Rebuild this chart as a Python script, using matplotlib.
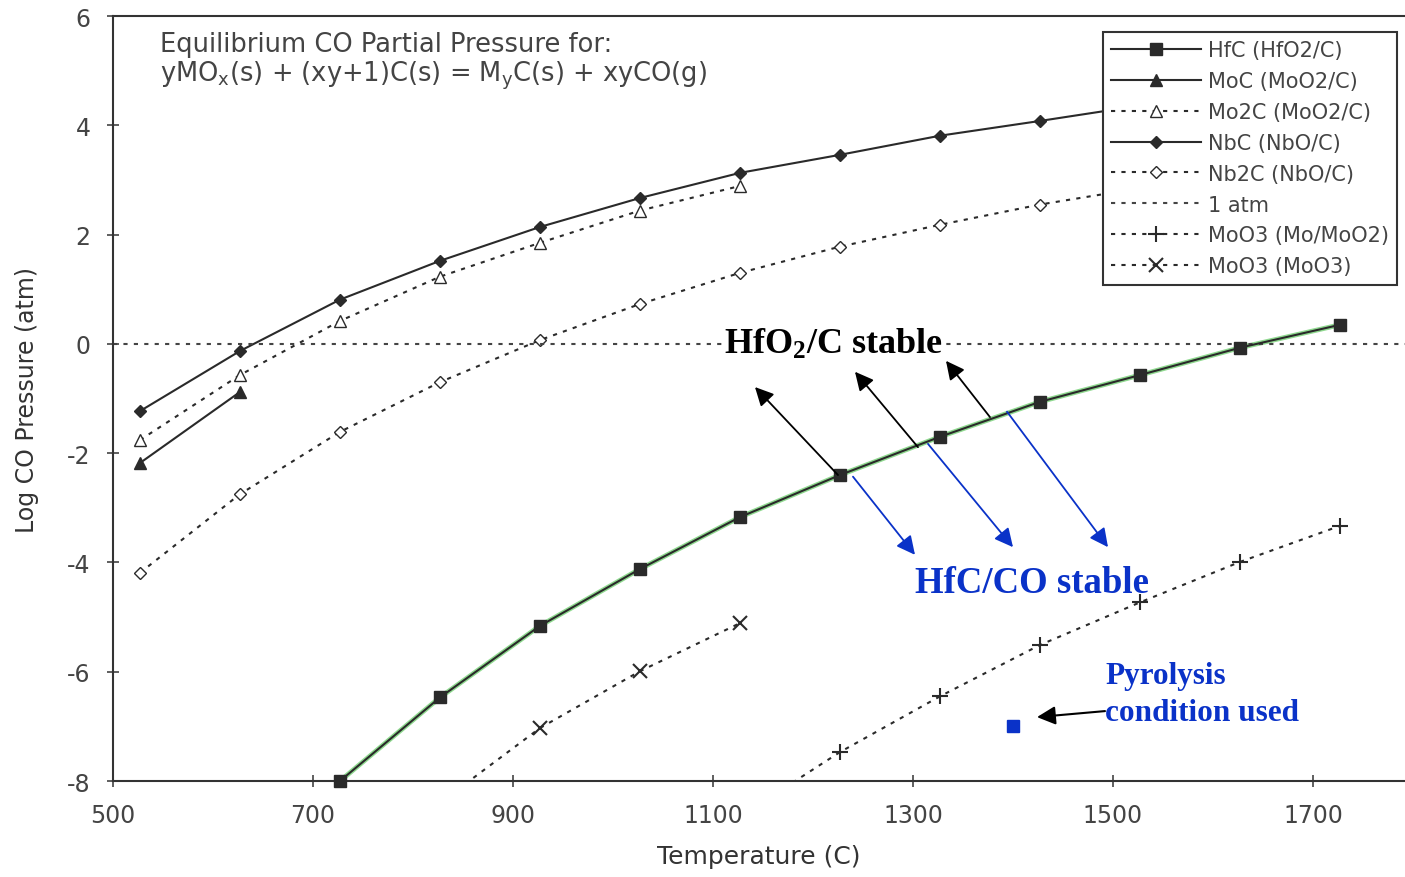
import matplotlib.pyplot as plt

plt.rcParams['font.family'] = ['DejaVu Sans']
plt.rcParams['mathtext.default'] = 'regular'
plt.rcParams['axes.unicode_minus'] = False

# data (temperature in C, log CO pressure in atm)
hfc_T = [727, 827, 927, 1027, 1127, 1227, 1327, 1427, 1527, 1627, 1727]
hfc_P = [-8.0, -6.47, -5.16, -4.12, -3.17, -2.40, -1.70, -1.06, -0.57, -0.07, 0.35]
moc_T = [527, 627]
moc_P = [-2.18, -0.88]
mo2c_T = [527, 627, 727, 827, 927, 1027, 1127]
mo2c_P = [-1.76, -0.57, 0.42, 1.23, 1.85, 2.44, 2.89]
nbc_T = [527, 627, 727, 827, 927, 1027, 1127, 1227, 1327, 1427, 1527]
nbc_P = [-1.23, -0.13, 0.81, 1.52, 2.14, 2.67, 3.13, 3.46, 3.81, 4.08, 4.36]
nb2c_T = [527, 627, 727, 827, 927, 1027, 1127, 1227, 1327, 1427, 1527]
nb2c_P = [-4.19, -2.75, -1.61, -0.70, 0.07, 0.73, 1.30, 1.78, 2.18, 2.55, 2.85]
atm_T = [500, 1800]
atm_P = [0, 0]
moo3a_T = [1127, 1227, 1327, 1427, 1527, 1627, 1727]
moo3a_P = [-8.65, -7.47, -6.45, -5.51, -4.73, -3.99, -3.33]
moo3b_T = [827, 927, 1027, 1127]
moo3b_P = [-8.4, -7.03, -5.99, -5.11]
pyro_T = [1400]
pyro_P = [-7.0]

labels = ["HfC (HfO2/C)", "MoC (MoO2/C)", "Mo2C (MoO2/C)", "NbC (NbO/C)",
          "Nb2C (NbO/C)", "1 atm", "MoO3 (Mo/MoO2)", "MoO3 (MoO3)"]

dark = '#2a2a2a'
grey = '#444444'
dots = (0, (2, 3))
blue = '#0a32c8'

fig = plt.figure(figsize=(14.05, 8.78), dpi=100)
ax = fig.add_axes([0.0804, 0.1093, 0.9196, 0.8713])

ax.plot(hfc_T, hfc_P, color='#8fd98f', lw=3.5, zorder=2)
ax.plot(hfc_T, hfc_P, 's-', color=dark, lw=1.5, ms=8, label=labels[0], zorder=3, clip_on=False)
ax.plot(moc_T, moc_P, '^-', color=dark, lw=1.5, ms=8, label=labels[1])
ax.plot(mo2c_T, mo2c_P, '^', ls=dots, color=dark, lw=1.5, ms=8, mfc='white', label=labels[2])
ax.plot(nbc_T, nbc_P, 'D-', color=dark, lw=1.5, ms=6, label=labels[3])
ax.plot(nb2c_T, nb2c_P, 'D', ls=dots, color=dark, lw=1.5, ms=6, mfc='white', label=labels[4])
ax.plot(atm_T, atm_P, ls=dots, color=grey, lw=1.5, label=labels[5])
ax.plot(moo3a_T, moo3a_P, '+', ls=dots, color=dark, lw=1.5, ms=11, mew=1.5, label=labels[6])
ax.plot(moo3b_T, moo3b_P, 'x', ls=dots, color=dark, lw=1.5, ms=10, mew=1.5, label=labels[7])
ax.plot(pyro_T, pyro_P, 's', color=blue, ms=8)

ax.set_xlim(500, 1792)
ax.set_ylim(-8, 6)
ax.set_xticks([500, 700, 900, 1100, 1300, 1500, 1700])
ax.set_yticks([-8, -6, -4, -2, 0, 2, 4, 6])
ax.tick_params(direction='inout', length=8, width=1.2, labelsize=17, colors='#444444', pad=12)
ax.spines['right'].set_visible(False)
for s in ['left', 'bottom', 'top']:
    ax.spines[s].set_linewidth(1.5)
    ax.spines[s].set_color('#333333')

ax.set_xlabel("Temperature (C)", fontsize=18, color='#333333', labelpad=12)
ax.set_ylabel("Log CO Pressure (atm)", fontsize=17, color='#333333', labelpad=20)

ax.text(547, 5.49, "Equilibrium CO Partial Pressure for:", fontsize=18.5, color=grey, va='center')
ax.text(547, 4.92, "yMO$_x$(s) + (xy+1)C(s) = M$_y$C(s) + xyCO(g)", fontsize=18.5,
        color=grey, va='center')

leg = ax.legend(loc='upper right', bbox_to_anchor=(0.994, 0.979), borderaxespad=0,
                fontsize=15, handlelength=4.3, handletextpad=0.35, fancybox=False,
                framealpha=1, edgecolor='#333333', labelspacing=0.52, borderpad=0.4,
                labelcolor=grey)
leg.get_frame().set_linewidth(1.5)

ax.text(1220, 0, "HfO$_2$/C stable", family='Liberation Serif', fontweight='bold',
        fontsize=26, ha='center', va='center', color='black',
        bbox=dict(facecolor='white', edgecolor='none', pad=1))
ax.text(1419, -4.36, "HfC/CO stable", family='Liberation Serif', fontweight='bold',
        fontsize=26.5, ha='center', va='center', color=blue)
ax.text(1492, -6.06, "Pyrolysis", family='Liberation Serif', fontweight='bold',
        fontsize=22.5, ha='left', va='center', color=blue)
ax.text(1492, -6.74, "condition used", family='Liberation Serif', fontweight='bold',
        fontsize=22.5, ha='left', va='center', color=blue)

black_tails = [(1225, -2.40), (1305, -1.89), (1377, -1.34)]
black_heads = [(1142, -0.79), (1242, -0.51), (1333, -0.31)]
blue_tails = [(1240, -2.43), (1315, -1.83), (1394, -1.24)]
blue_heads = [(1302, -3.86), (1400, -3.72), (1495, -3.72)]

for t, h in zip(black_tails, black_heads):
    ax.annotate("", xy=h, xytext=t,
                arrowprops=dict(arrowstyle='-|>', color='black', lw=1.3, mutation_scale=28,
                                shrinkA=0, shrinkB=0))
for t, h in zip(blue_tails, blue_heads):
    ax.annotate("", xy=h, xytext=t,
                arrowprops=dict(arrowstyle='-|>', color=blue, lw=1.3, mutation_scale=28,
                                shrinkA=0, shrinkB=0))
ax.annotate("", xy=(1424, -6.83), xytext=(1492, -6.72),
            arrowprops=dict(arrowstyle='-|>', color='black', lw=1.5, mutation_scale=28,
                            shrinkA=0, shrinkB=0))

fig.savefig("out.png", dpi=100)
